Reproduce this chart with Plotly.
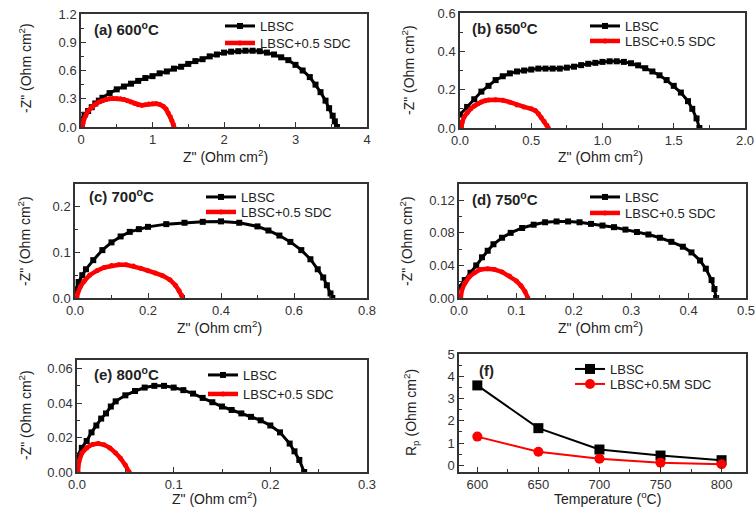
import plotly.graph_objects as go

W, H = 756, 508
FONT = "Liberation Sans, Arial, sans-serif"

# ---------------- data ----------------
a_lbsc_x = [0.00, 0.05, 0.10, 0.15, 0.20, 0.25, 0.30, 0.40, 0.50, 0.60, 0.70, 0.80, 0.90, 1.00, 1.10, 1.20, 1.30, 1.40,
            1.50, 1.60, 1.70, 1.80, 1.90, 2.00, 2.10, 2.20, 2.30, 2.40, 2.50, 2.60, 2.70, 2.80, 2.90, 3.00, 3.10, 3.20,
            3.28, 3.35, 3.42, 3.47, 3.52, 3.55, 3.58]
a_lbsc_y = [0.08, 0.13, 0.17, 0.21, 0.25, 0.28, 0.31, 0.36, 0.40, 0.43, 0.46, 0.49, 0.52, 0.54, 0.57, 0.59, 0.62, 0.64,
            0.67, 0.70, 0.72, 0.75, 0.77, 0.79, 0.80, 0.805, 0.81, 0.81, 0.805, 0.79, 0.77, 0.74, 0.71, 0.66, 0.60, 0.53,
            0.45, 0.37, 0.28, 0.20, 0.12, 0.06, 0.00]
a_sdc_x = [0.02, 0.025, 0.04, 0.07, 0.10, 0.15, 0.20, 0.25, 0.30, 0.35, 0.40, 0.45, 0.50, 0.55, 0.60, 0.65, 0.70, 0.75,
           0.80, 0.85, 0.90, 0.95, 1.00, 1.05, 1.10, 1.15, 1.19, 1.22, 1.25, 1.27, 1.29, 1.30]
a_sdc_y = [0.0, 0.04, 0.08, 0.13, 0.17, 0.21, 0.245, 0.265, 0.28, 0.292, 0.30, 0.303, 0.303, 0.30, 0.293, 0.28, 0.265,
           0.25, 0.237, 0.23, 0.235, 0.243, 0.248, 0.248, 0.24, 0.22, 0.19, 0.15, 0.11, 0.07, 0.03, 0.0]

b_lbsc_x = [0.00, 0.05, 0.10, 0.15, 0.20, 0.25, 0.30, 0.35, 0.40, 0.45, 0.50, 0.55, 0.60, 0.65, 0.70, 0.75, 0.80, 0.85,
            0.90, 0.95, 1.00, 1.05, 1.10, 1.15, 1.20, 1.25, 1.30, 1.35, 1.40, 1.45, 1.50, 1.55, 1.60, 1.63, 1.66, 1.68]
b_lbsc_y = [0.07, 0.11, 0.15, 0.19, 0.22, 0.25, 0.27, 0.285, 0.295, 0.30, 0.305, 0.31, 0.31, 0.31, 0.31, 0.315, 0.32,
            0.328, 0.335, 0.34, 0.345, 0.348, 0.348, 0.345, 0.338, 0.327, 0.312, 0.295, 0.275, 0.25, 0.22, 0.185, 0.14,
            0.10, 0.05, 0.00]
b_sdc_x = [0.01, 0.015, 0.03, 0.05, 0.075, 0.10, 0.125, 0.15, 0.175, 0.20, 0.25, 0.30, 0.35, 0.40, 0.45, 0.50, 0.53,
           0.55, 0.57, 0.59, 0.61, 0.62]
b_sdc_y = [0.0, 0.03, 0.06, 0.08, 0.10, 0.115, 0.127, 0.136, 0.142, 0.146, 0.148, 0.145, 0.135, 0.12, 0.11, 0.10, 0.09,
           0.075, 0.055, 0.035, 0.015, 0.0]

c_lbsc_x = [0.000, 0.01, 0.02, 0.03, 0.05, 0.075, 0.10, 0.125, 0.15, 0.175, 0.20, 0.25, 0.30, 0.35, 0.40, 0.45, 0.50,
            0.53, 0.56, 0.59, 0.62, 0.645, 0.665, 0.68, 0.69, 0.70, 0.705]
c_lbsc_y = [0.015, 0.035, 0.05, 0.063, 0.083, 0.105, 0.122, 0.135, 0.145, 0.151, 0.156, 0.162, 0.165, 0.167, 0.168,
            0.165, 0.157, 0.148, 0.137, 0.123, 0.105, 0.085, 0.063, 0.045, 0.028, 0.01, 0.0]
c_sdc_x = [0.005, 0.008, 0.015, 0.025, 0.04, 0.06, 0.08, 0.10, 0.12, 0.14, 0.16, 0.18, 0.20, 0.22, 0.24, 0.26, 0.275,
           0.285, 0.292, 0.295]
c_sdc_y = [0.0, 0.012, 0.025, 0.037, 0.05, 0.06, 0.067, 0.071, 0.073, 0.073, 0.07, 0.065, 0.06, 0.055, 0.049, 0.04,
           0.028, 0.016, 0.006, 0.0]

d_lbsc_x = [0.000, 0.01, 0.02, 0.03, 0.04, 0.05, 0.06, 0.075, 0.09, 0.11, 0.13, 0.15, 0.17, 0.19, 0.21, 0.23, 0.25,
            0.27, 0.29, 0.31, 0.33, 0.35, 0.37, 0.39, 0.405, 0.42, 0.43, 0.44, 0.445, 0.448]
d_lbsc_y = [0.013, 0.022, 0.031, 0.040, 0.050, 0.058, 0.066, 0.074, 0.080, 0.086, 0.090, 0.093, 0.094, 0.094, 0.093,
            0.091, 0.089, 0.087, 0.084, 0.081, 0.078, 0.074, 0.069, 0.063, 0.056, 0.046, 0.036, 0.022, 0.011, 0.0]
d_sdc_x = [0.003, 0.005, 0.01, 0.018, 0.027, 0.037, 0.05, 0.062, 0.075, 0.088, 0.10, 0.108, 0.115, 0.12]
d_sdc_y = [0.0, 0.01, 0.018, 0.026, 0.031, 0.035, 0.036, 0.035, 0.032, 0.027, 0.021, 0.015, 0.008, 0.0]

e_lbsc_x = [0.000, 0.005, 0.01, 0.015, 0.02, 0.025, 0.03, 0.035, 0.04, 0.05, 0.06, 0.07, 0.08, 0.09, 0.10, 0.11, 0.12,
            0.13, 0.14, 0.15, 0.16, 0.17, 0.18, 0.19, 0.20, 0.21, 0.22, 0.225, 0.23, 0.235]
e_lbsc_y = [0.009, 0.014, 0.018, 0.023, 0.027, 0.031, 0.034, 0.038, 0.041, 0.0445, 0.047, 0.049, 0.050, 0.050, 0.049,
            0.0475, 0.0455, 0.043, 0.0405, 0.038, 0.036, 0.034, 0.032, 0.030, 0.027, 0.023, 0.0165, 0.012, 0.007, 0.0]
e_sdc_x = [0.001, 0.002, 0.005, 0.01, 0.016, 0.022, 0.028, 0.034, 0.04, 0.045, 0.05, 0.054]
e_sdc_y = [0.0, 0.006, 0.011, 0.014, 0.016, 0.0165, 0.0158, 0.014, 0.011, 0.008, 0.004, 0.0]

temps = [600, 650, 700, 750, 800]
rp_lbsc = [3.59, 1.67, 0.71, 0.44, 0.23]
rp_sdc = [1.29, 0.61, 0.30, 0.12, 0.05]

labels = ["(a) 600<sup>o</sup>C", "(b) 650<sup>o</sup>C", "(c) 700<sup>o</sup>C",
          "(d) 750<sup>o</sup>C", "(e) 800<sup>o</sup>C", "(f)"]
name_lbsc = "LBSC"
name_sdc = "LBSC+0.5 SDC"
name_sdc_f = "LBSC+0.5M SDC"

# ---------------- layout helpers (reference pixels -> paper) ----------------
def fx(p):
    return p / W

def fy(p):
    return 1 - p / H

# pixel boxes: left, right, top, bottom
boxes = [
    (81, 367, 14, 127),
    (460, 745, 13, 128),
    (75, 367, 184, 298),
    (459, 746, 184, 298),
    (77, 367, 360, 472),
    (459, 746, 354, 472),
]
xranges = [[0, 4], [0, 2], [0, 0.8], [0, 0.5], [0, 0.3], [585, 820]]
yranges = [[0, 1.2001], [0, 0.6001], [0, 0.25], [0, 0.14], [0, 0.065], [-0.3, 5.001]]
xdt = [1, 0.5, 0.2, 0.1, 0.1, 50]
ydt = [0.3, 0.2, 0.1, 0.04, 0.02, 1]
xfmt = ["d", ".1f", ".1f", ".1f", ".1f", "d"]
yfmt = [".1f", ".1f", ".1f", ".2f", ".2f", "d"]

# legend placement: (left x, top y of row 1, top y of row 2) in reference pixels
legend_pos = [(220, 11, 28), (585, 11, 26), (201, 182, 197), (585, 182, 198), (203, 360, 379), (570, 354, 369)]

fig = go.Figure()

series = [
    (a_lbsc_x, a_lbsc_y, a_sdc_x, a_sdc_y),
    (b_lbsc_x, b_lbsc_y, b_sdc_x, b_sdc_y),
    (c_lbsc_x, c_lbsc_y, c_sdc_x, c_sdc_y),
    (d_lbsc_x, d_lbsc_y, d_sdc_x, d_sdc_y),
    (e_lbsc_x, e_lbsc_y, e_sdc_x, e_sdc_y),
    (temps, rp_lbsc, temps, rp_sdc),
]

layout = dict(
    width=W, height=H,
    margin=dict(l=0, r=0, t=0, b=0),
    paper_bgcolor="white", plot_bgcolor="white",
    font=dict(family=FONT, size=13, color="#222"),
    showlegend=True,
)

for i, (bx, by, rx, ry) in enumerate(series):
    n = i + 1
    xa = "x" if n == 1 else f"x{n}"
    ya = "y" if n == 1 else f"y{n}"
    lg1 = f"legend{2 * i + 1}" if i > 0 else "legend"
    lg2 = f"legend{2 * i + 2}"
    big = (n == 6)
    fig.add_trace(go.Scatter(
        x=bx, y=by, name=name_lbsc, mode="lines+markers", xaxis=xa, yaxis=ya, legend=lg1,
        line=dict(color="black", width=2 if big else 3),
        marker=dict(symbol="square", size=10 if big else 6, color="black"),
    ))
    fig.add_trace(go.Scatter(
        x=rx, y=ry, name=name_sdc_f if big else name_sdc, mode="lines+markers", xaxis=xa, yaxis=ya, legend=lg2,
        line=dict(color="#ff0000", width=2 if big else 4.5),
        marker=dict(symbol="circle", size=10 if big else 5, color="#ff0000"),
    ))
    lx, t1, t2 = legend_pos[i]
    for key, ty in ((lg1, t1), (lg2, t2)):
        layout[key] = dict(x=fx(lx), y=fy(ty), xanchor="left", yanchor="top",
                           bgcolor="rgba(0,0,0,0)", borderwidth=0,
                           font=dict(family=FONT, size=13, color="#222"),
                           itemwidth=30, itemsizing="trace")

axis_common = dict(
    showgrid=False, zeroline=False, showline=True, linecolor="#333", linewidth=1.5, mirror=True,
    ticks="inside", ticklen=5, tickwidth=1.2, tickcolor="#333",
    tickfont=dict(family=FONT, size=13, color="#333"),
    automargin=False, fixedrange=True,
)

for i in range(6):
    n = i + 1
    l, r, t, b = boxes[i]
    xk = "xaxis" if n == 1 else f"xaxis{n}"
    yk = "yaxis" if n == 1 else f"yaxis{n}"
    x0 = 600 if n == 6 else 0
    layout[xk] = dict(axis_common, domain=[fx(l), fx(r)], range=xranges[i],
                      anchor="y" if n == 1 else f"y{n}",
                      tick0=x0, dtick=xdt[i], tickformat=xfmt[i],
                      minor=dict(ticks="inside", ticklen=3, tickcolor="#333", dtick=xdt[i] / 2, tick0=x0))
    layout[yk] = dict(axis_common, domain=[fy(b), fy(t)], range=yranges[i],
                      anchor="x" if n == 1 else f"x{n}",
                      tick0=0, dtick=ydt[i], tickformat=yfmt[i],
                      minor=dict(ticks="inside", ticklen=3, tickcolor="#333", dtick=ydt[i] / 2, tick0=0))

fig.update_layout(**layout)

# panel labels
label_pos = [(92, 28), (470, 27), (87, 195), (470, 198), (92, 373), (477, 370)]
for txt, (lx, ly) in zip(labels, label_pos):
    fig.add_annotation(text=f"<b>{txt}</b>", x=fx(lx), y=fy(ly), xref="paper", yref="paper",
                       xanchor="left", yanchor="middle", showarrow=False,
                       font=dict(family=FONT, size=15, color="#222"))

# axis titles
ytitle = '-Z" (Ohm cm<sup>2</sup>)'
ytitles = [ytitle] * 5 + ["R<sub>p</sub> (Ohm cm<sup>2</sup>)"]
ytitle_pos = [(25, 68), (408, 70), (24, 241), (406, 241), (25, 415), (411, 412)]
for txt, (px, py) in zip(ytitles, ytitle_pos):
    fig.add_annotation(text=txt, x=fx(px), y=fy(py), xref="paper", yref="paper",
                       xanchor="center", yanchor="middle", textangle=-90, showarrow=False,
                       font=dict(family=FONT, size=14, color="#222"))

xtitle = 'Z" (Ohm cm<sup>2</sup>)'
xtitles = [xtitle] * 5 + ["Temperature (<sup>o</sup>C)"]
xtitle_pos = [(225, 156), (600, 156), (219, 327), (600, 327), (214, 498), (607, 498)]
for txt, (px, py) in zip(xtitles, xtitle_pos):
    fig.add_annotation(text=txt, x=fx(px), y=fy(py), xref="paper", yref="paper",
                       xanchor="center", yanchor="middle", showarrow=False,
                       font=dict(family=FONT, size=14, color="#222"))

fig.write_html("out.html", config={"displayModeBar": False},
               post_script="document.body.style.margin='0';document.body.style.overflow='hidden';")
